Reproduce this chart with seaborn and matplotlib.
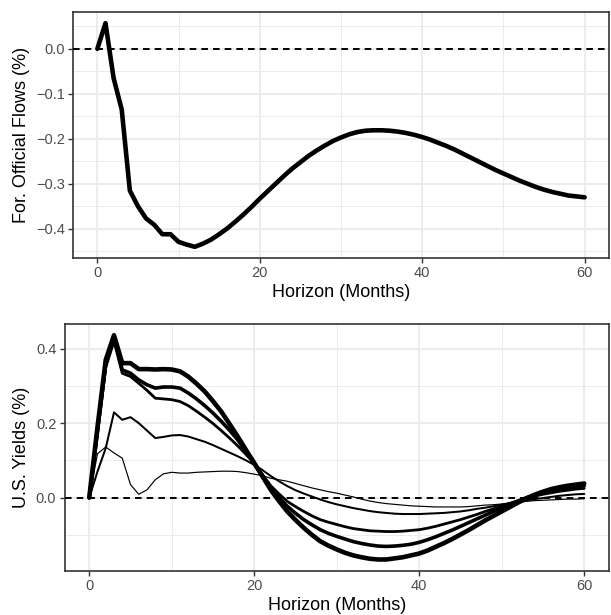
import matplotlib
matplotlib.use("Agg")
import numpy as np
import pandas as pd
import matplotlib.pyplot as plt
import seaborn as sns
from matplotlib.ticker import MultipleLocator

# ---------------- data ----------------
horizon = list(range(61))

official_flows = [
    0.000, 0.057, -0.065, -0.135, -0.315, -0.350, -0.377, -0.391, -0.412, -0.412,
    -0.429, -0.435, -0.440, -0.433, -0.424, -0.412, -0.399, -0.384, -0.368, -0.351,
    -0.333, -0.316, -0.299, -0.282, -0.266, -0.252, -0.238, -0.226, -0.215, -0.205,
    -0.197, -0.190, -0.185, -0.182, -0.181, -0.181, -0.182, -0.184, -0.187, -0.191,
    -0.196, -0.202, -0.209, -0.216, -0.224, -0.233, -0.242, -0.251, -0.260, -0.269,
    -0.277, -0.285, -0.293, -0.300, -0.307, -0.313, -0.318, -0.322, -0.326, -0.328,
    -0.330,
]

yields_1 = [
    0.000, 0.118, 0.136, 0.120, 0.106, 0.035, 0.009, 0.021, 0.048, 0.064,
    0.068, 0.066, 0.066, 0.068, 0.069, 0.070, 0.071, 0.071, 0.070, 0.067,
    0.063, 0.059, 0.052, 0.048, 0.044, 0.038, 0.032, 0.026, 0.021, 0.016,
    0.012, 0.007, 0.002, -0.004, -0.009, -0.013, -0.016, -0.018, -0.020, -0.022,
    -0.023, -0.024, -0.025, -0.025, -0.025, -0.025, -0.024, -0.022, -0.020, -0.019,
    -0.017, -0.014, -0.012, -0.010, -0.008, -0.007, -0.006, -0.005, -0.004, -0.004,
    -0.003,
]

yields_2 = [
    0.000, 0.070, 0.133, 0.229, 0.209, 0.216, 0.200, 0.180, 0.160, 0.163,
    0.167, 0.168, 0.164, 0.157, 0.150, 0.141, 0.131, 0.121, 0.111, 0.100,
    0.088, 0.074, 0.058, 0.044, 0.031, 0.020, 0.011, 0.003, -0.005, -0.012,
    -0.018, -0.023, -0.028, -0.032, -0.036, -0.039, -0.041, -0.043, -0.044, -0.044,
    -0.044, -0.043, -0.042, -0.041, -0.039, -0.037, -0.034, -0.030, -0.027, -0.023,
    -0.019, -0.015, -0.011, -0.007, -0.004, -0.001, 0.002, 0.005, 0.007, 0.009,
    0.010,
]

yields_3 = [
    0.000, 0.170, 0.350, 0.420, 0.334, 0.325, 0.307, 0.288, 0.267, 0.265,
    0.263, 0.258, 0.247, 0.232, 0.216, 0.199, 0.180, 0.160, 0.139, 0.116,
    0.092, 0.062, 0.032, 0.010, -0.010, -0.024, -0.037, -0.049, -0.059, -0.066,
    -0.072, -0.078, -0.083, -0.086, -0.089, -0.090, -0.091, -0.091, -0.090, -0.088,
    -0.086, -0.082, -0.077, -0.071, -0.065, -0.059, -0.052, -0.045, -0.037, -0.030,
    -0.023, -0.015, -0.008, -0.002, 0.004, 0.009, 0.013, 0.017, 0.020, 0.023,
    0.025,
]

yields_4 = [
    0.000, 0.180, 0.360, 0.430, 0.343, 0.334, 0.316, 0.303, 0.294, 0.297,
    0.297, 0.294, 0.281, 0.265, 0.247, 0.227, 0.205, 0.181, 0.155, 0.124,
    0.091, 0.058, 0.026, -0.001, -0.023, -0.042, -0.059, -0.073, -0.086, -0.096,
    -0.104, -0.111, -0.118, -0.123, -0.127, -0.130, -0.131, -0.130, -0.128, -0.125,
    -0.120, -0.113, -0.105, -0.096, -0.087, -0.077, -0.067, -0.057, -0.047, -0.037,
    -0.028, -0.018, -0.009, 0.000, 0.007, 0.013, 0.019, 0.023, 0.027, 0.030,
    0.032,
]

yields_5 = [
    0.000, 0.190, 0.370, 0.436, 0.361, 0.361, 0.345, 0.345, 0.344, 0.345,
    0.344, 0.339, 0.325, 0.306, 0.285, 0.259, 0.231, 0.198, 0.164, 0.128,
    0.093, 0.057, 0.021, -0.009, -0.037, -0.060, -0.081, -0.100, -0.117, -0.129,
    -0.139, -0.148, -0.155, -0.160, -0.164, -0.166, -0.166, -0.163, -0.160, -0.155,
    -0.150, -0.142, -0.132, -0.122, -0.111, -0.099, -0.087, -0.074, -0.061, -0.049,
    -0.037, -0.025, -0.013, -0.002, 0.008, 0.016, 0.023, 0.028, 0.032, 0.035,
    0.038,
]

series_names = ["S1", "S2", "S3", "S4", "S5"]
series_values = [yields_1, yields_2, yields_3, yields_4, yields_5]
series_widths = [0.85, 1.45, 2.0, 2.6, 3.3]

x_label = "Horizon (Months)"
y_label_top = "For. Official Flows (%)"
y_label_bottom = "U.S. Yields (%)"

# ---------------- tables ----------------
df_top = pd.DataFrame({"Horizon": horizon, "Value": official_flows})
df_bot = pd.concat(
    [pd.DataFrame({"Horizon": horizon, "Value": v, "Series": n})
     for n, v in zip(series_names, series_values)],
    ignore_index=True,
)

# ---------------- style ----------------
sns.set_style("white")
plt.rcParams["font.family"] = ["Liberation Sans", "DejaVu Sans"]
plt.rcParams["axes.unicode_minus"] = True

GRID = "#EBEBEB"
DARK = "#333333"
TICKTXT = "#4D4D4D"

fig = plt.figure(figsize=(6.11, 6.15), dpi=100)
ax1 = fig.add_axes([73 / 611, 1 - 258 / 615, (609 - 73) / 611, (258 - 12) / 615])
ax2 = fig.add_axes([64.5 / 611, 1 - 570.7 / 615, (609 - 64.5) / 611, (570.7 - 324) / 615])


def expand(vals, frac=0.05):
    lo, hi = min(vals), max(vals)
    d = (hi - lo) * frac
    return lo - d, hi + d


def style_axis(ax, ymaj, ymin_step):
    ax.set_xlim(*expand(horizon))
    ax.xaxis.set_major_locator(MultipleLocator(20))
    ax.xaxis.set_minor_locator(MultipleLocator(10))
    ax.yaxis.set_major_locator(MultipleLocator(ymaj))
    ax.yaxis.set_minor_locator(MultipleLocator(ymin_step))
    ax.grid(which="major", color=GRID, lw=1.3)
    ax.grid(which="minor", color=GRID, lw=0.7)
    ax.set_axisbelow(True)
    ax.tick_params(which="major", length=3.3, width=1.0, color=DARK,
                   labelsize=10.5, labelcolor=TICKTXT, pad=2.6,
                   bottom=True, left=True)
    ax.tick_params(which="minor", length=0)
    for s in ax.spines.values():
        s.set_color(DARK)
        s.set_linewidth(1.2)
    ax.set_xlabel(x_label, fontsize=13, color="black", labelpad=3.0)


# ---------------- top panel ----------------
sns.lineplot(data=df_top, x="Horizon", y="Value", ax=ax1, color="black",
             lw=3.3, estimator=None, solid_joinstyle="round")
ax1.axhline(0, color="black", lw=1.4, ls=(0, (3.4, 2.6)), zorder=5)
ax1.set_ylim(*expand(official_flows))
style_axis(ax1, 0.1, 0.05)
ax1.set_ylabel(y_label_top, fontsize=13, color="black", labelpad=4)

# ---------------- bottom panel ----------------
sns.lineplot(data=df_bot, x="Horizon", y="Value", hue="Series", size="Series",
             palette=["black"] * len(series_names),
             sizes=dict(zip(series_names, series_widths)),
             ax=ax2, estimator=None, legend=False, solid_joinstyle="round")
ax2.axhline(0, color="black", lw=1.4, ls=(0, (3.4, 2.6)), zorder=5)
allv = [v for s in series_values for v in s]
ax2.set_ylim(*expand(allv))
style_axis(ax2, 0.2, 0.1)
ax2.set_ylabel(y_label_bottom, fontsize=13, color="black", labelpad=4)

fig.savefig("out.png", dpi=100)
